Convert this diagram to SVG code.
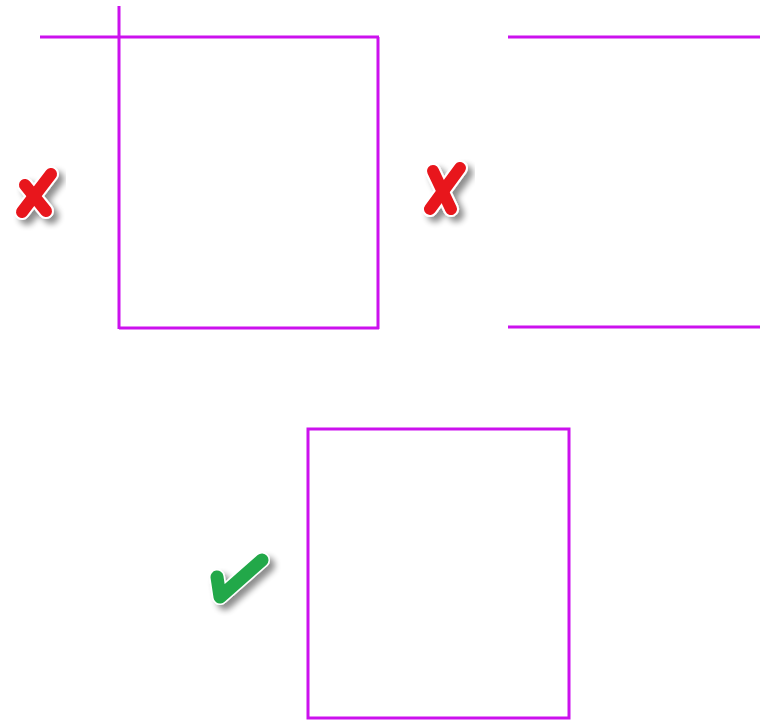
<svg xmlns="http://www.w3.org/2000/svg" width="760" height="722" viewBox="0 0 760 722">
<style>
.ln{stroke:#cc11ee;stroke-width:3;fill:none;stroke-linecap:butt}
.xm{stroke:#e8141c;stroke-width:12;stroke-linecap:round;fill:none}
.ok{stroke:#22a84a;stroke-width:13;stroke-linecap:round;stroke-linejoin:round;fill:none}
.halo{stroke:#ffffff;stroke-width:16;stroke-linecap:round;stroke-linejoin:round;fill:none}
</style>
<defs>
<filter id="sh" x="-50%" y="-50%" width="200%" height="200%">
<feGaussianBlur in="SourceAlpha" stdDeviation="3"/>
<feOffset dx="5" dy="5" result="b"/>
<feComponentTransfer><feFuncA type="linear" slope="0.45"/></feComponentTransfer>
<feMerge><feMergeNode/><feMergeNode in="SourceGraphic"/></feMerge>
</filter>
</defs>
<rect width="760" height="722" fill="#ffffff"/>
<g id="wrong1">
<line class="ln" x1="40" y1="37" x2="379" y2="37"/>
<line class="ln" x1="119" y1="6" x2="119" y2="329"/>
<line class="ln" x1="378" y1="37" x2="378" y2="329"/>
<line class="ln" x1="119" y1="328" x2="379" y2="328"/>
</g>
<g id="wrong2">
<line class="ln" x1="508" y1="37" x2="760" y2="37"/>
<line class="ln" x1="508" y1="327" x2="760" y2="327"/>
</g>
<g id="right">
<rect class="ln" x="308" y="429" width="261" height="289"/>
</g>
<g id="cross1" filter="url(#sh)">
<g class="halo"><line x1="51" y1="174" x2="22" y2="212"/><line x1="25" y1="185" x2="46" y2="211"/></g>
<g class="xm"><line x1="51" y1="174" x2="22" y2="212"/><line x1="25" y1="185" x2="46" y2="211"/></g>
</g>
<g id="cross2" filter="url(#sh)">
<g class="halo"><line x1="460" y1="168" x2="430" y2="209"/><line x1="433" y1="171" x2="451" y2="209"/></g>
<g class="xm"><line x1="460" y1="168" x2="430" y2="209"/><line x1="433" y1="171" x2="451" y2="209"/></g>
</g>
<g id="check" filter="url(#sh)">
<path class="halo" d="M217 577 L220 597 L262 560"/>
<path class="ok" d="M217 577 L220 597 L262 560"/>
</g>
</svg>
